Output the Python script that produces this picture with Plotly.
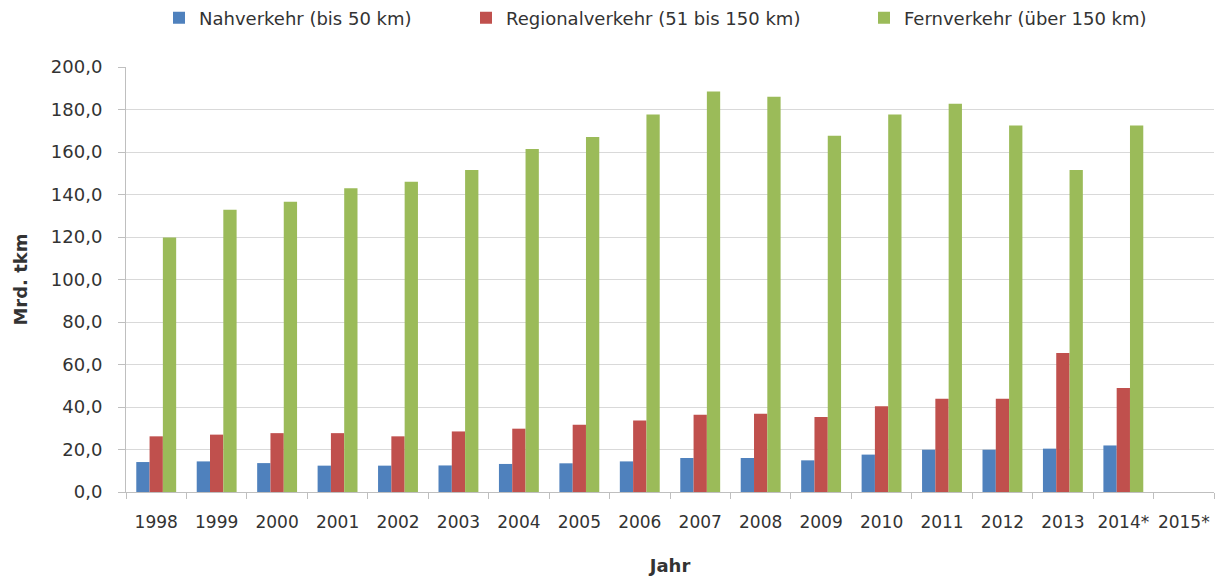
import plotly.graph_objects as go

# Güterverkehrsleistung nach Entfernungsbereichen (Mrd. tkm)
jahre = ["1998", "1999", "2000", "2001", "2002", "2003", "2004", "2005", "2006",
         "2007", "2008", "2009", "2010", "2011", "2012", "2013", "2014*", "2015*"]
nahverkehr = [14.1, 14.4, 13.6, 12.4, 12.4, 12.5, 13.2, 13.5, 14.4,
              16.0, 16.0, 14.9, 17.6, 19.9, 19.9, 20.4, 21.9, None]
regionalverkehr = [26.2, 27.0, 27.7, 27.7, 26.2, 28.5, 29.8, 31.7, 33.7,
                   36.4, 36.8, 35.3, 40.3, 43.9, 43.9, 65.4, 48.9, None]
fernverkehr = [119.8, 132.8, 136.6, 143.0, 146.0, 151.5, 161.4, 167.1, 177.6,
               188.5, 186.0, 167.7, 177.6, 182.7, 172.5, 151.5, 172.5, None]

FONT = "DejaVu Sans"
TEXT = "#333333"
LINE = "#bfbfbf"

series = [
    ("Nahverkehr (bis 50 km)", nahverkehr, "#4f81bd", "legend"),
    ("Regionalverkehr (51 bis 150 km)", regionalverkehr, "#c0504d", "legend2"),
    ("Fernverkehr (über 150 km)", fernverkehr, "#9bbb59", "legend3"),
]

fig = go.Figure()
for name, vals, color, lg in series:
    fig.add_trace(go.Bar(x=jahre, y=vals, name=name, marker_color=color,
                         marker_line_width=0, legend=lg, showlegend=True))

legend_style = dict(orientation="h", xref="container", yref="container",
                    xanchor="left", yanchor="middle", y=1 - 18 / 581,
                    font=dict(family=FONT, size=18, color=TEXT),
                    bgcolor="rgba(0,0,0,0)", borderwidth=0, visible=True)

fig.update_layout(
    width=1222, height=581,
    margin=dict(l=126, r=8, t=67, b=89),
    paper_bgcolor="white", plot_bgcolor="white",
    barmode="group", bargap=0.34, bargroupgap=0,
    separators=",.",
    showlegend=True,
    font=dict(family=FONT, size=18, color=TEXT),
    legend=dict(legend_style, x=159 / 1222),
    legend2=dict(legend_style, x=466 / 1222),
    legend3=dict(legend_style, x=864 / 1222),
    xaxis=dict(
        type="category", tickson="boundaries", ticks="outside", ticklen=6,
        tickcolor=LINE, showline=True, linecolor=LINE, linewidth=1,
        showgrid=False, ticklabelstandoff=15, tickangle=0,
        tickfont=dict(family=FONT, size=17, color=TEXT),
        title=dict(text="<b>Jahr</b>", standoff=27,
                   font=dict(family=FONT, size=18, color=TEXT)),
    ),
    yaxis=dict(
        range=[0, 200], dtick=20, tick0=0, tickformat=".1f",
        showgrid=True, gridcolor="#d9d9d9", gridwidth=1,
        showline=True, linecolor=LINE, linewidth=1,
        ticks="outside", ticklen=7, tickcolor=LINE, ticklabelstandoff=12,
        zeroline=False,
        tickfont=dict(family=FONT, size=18, color=TEXT),
        title=dict(text="<b>Mrd. tkm</b>", standoff=18,
                   font=dict(family=FONT, size=18, color=TEXT)),
    ),
)

fig.write_html("out.html")
